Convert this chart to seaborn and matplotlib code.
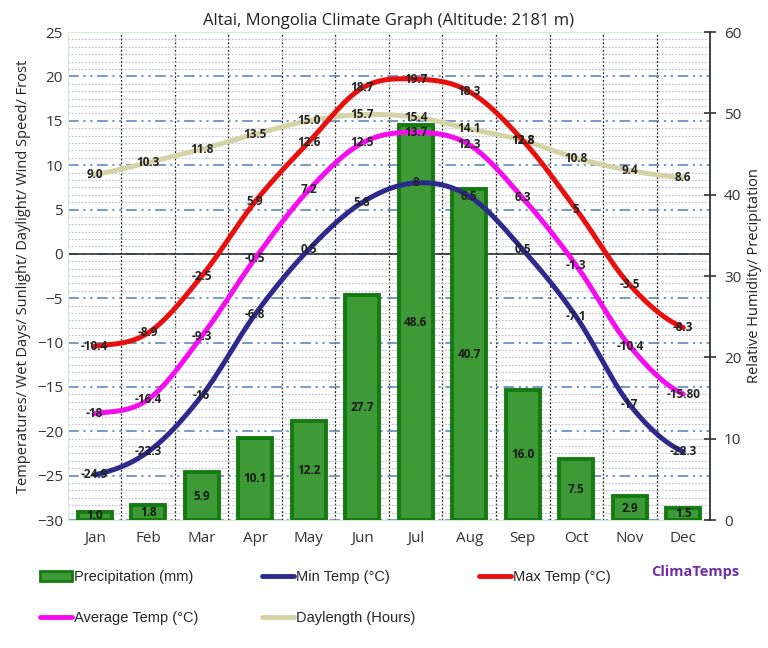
import numpy as np
import pandas as pd
import matplotlib
matplotlib.use("Agg")
from matplotlib import pyplot as plt
from matplotlib.lines import Line2D
from matplotlib.patches import Patch
from matplotlib.ticker import MultipleLocator, AutoMinorLocator
import seaborn as sns

months = ["Jan", "Feb", "Mar", "Apr", "May", "Jun",
          "Jul", "Aug", "Sep", "Oct", "Nov", "Dec"]
precip = [1.0, 1.8, 5.9, 10.1, 12.2, 27.7, 48.6, 40.7, 16.0, 7.5, 2.9, 1.5]
min_temp = [-24.9, -22.3, -16, -6.8, 0.5, 5.8, 8, 6.5, 0.5, -7.1, -17, -22.3]
max_temp = [-10.4, -8.9, -2.5, 5.9, 12.6, 18.7, 19.7, 18.3, 12.8, 5, -3.5, -8.3]
avg_temp = [-18, -16.4, -9.3, -0.5, 7.2, 12.5, 13.7, 12.3, 6.3, -1.3, -10.4, -15.8]
daylength = [9.0, 10.3, 11.8, 13.5, 15.0, 15.7, 15.4, 14.1, 12.8, 10.8, 9.4, 8.6]

min_labels = ["-24.9", "-22.3", "-16", "-6.8", "0.5", "5.8", "8", "6.5", "0.5", "-7.1", "-17", "-22.3"]
max_labels = ["-10.4", "-8.9", "-2.5", "5.9", "12.6", "18.7", "19.7", "18.3", "12.8", "5", "-3.5", "-8.3"]
avg_labels = ["-18", "-16.4", "-9.3", "-0.5", "7.2", "12.5", "13.7", "12.3", "6.3", "-1.3", "-10.4", "-15.80"]
day_labels = [f"{v:.1f}" for v in daylength]

C_MAX = "#e8100e"
C_AVG = "#f50cf0"
C_MIN = "#2e2a8c"
C_DAY = "#d3d3a6"
C_BAR = "#3d9a36"
C_BAR_EDGE = "#147a12"


def smooth(values, steps=24):
    """Catmull-Rom curve through the monthly points (for drawing only)."""
    y = np.asarray(values, dtype=float)
    p = np.concatenate([[y[0]], y, [y[-1]]])
    xs, ys = [], []
    for i in range(len(y) - 1):
        p0, p1, p2, p3 = p[i], p[i + 1], p[i + 2], p[i + 3]
        t = np.linspace(0, 1, steps, endpoint=False)
        seg = 0.5 * ((2 * p1) + (-p0 + p2) * t
                     + (2 * p0 - 5 * p1 + 4 * p2 - p3) * t ** 2
                     + (-p0 + 3 * p1 - 3 * p2 + p3) * t ** 3)
        xs.extend(i + t)
        ys.extend(seg)
    xs.append(len(y) - 1)
    ys.append(y[-1])
    return pd.DataFrame({"x": xs, "y": ys})


sns.set_style("white")
plt.rcParams["font.family"] = ["Open Sans", "DejaVu Sans"]

fig = plt.figure(figsize=(7.68, 6.48), dpi=100)
ax = fig.add_axes([0.0885, 0.1975, 0.836, 0.753])
axr = ax.twinx()
axt = ax.twinx()

# background axis: grid + left scale
ax.set_xlim(-0.5, 11.5)
ax.set_ylim(-30, 25)
ax.yaxis.set_major_locator(MultipleLocator(5))
ax.yaxis.set_minor_locator(AutoMinorLocator(6))
ax.set_xticks(range(12))
ax.set_xticklabels(months)
ax.set_xticks(np.arange(0.5, 11.5, 1), minor=True)
ax.grid(which="major", axis="y", color="#4f7fb8", lw=1.1,
        linestyle=(0, (7, 3, 1.5, 3, 1.5, 3)))
ax.grid(which="minor", axis="y", color="#b9c0cc", lw=0.8, linestyle=(0, (1.5, 1.5)))
ax.grid(which="minor", axis="x", color="#222222", lw=0.9, linestyle=(0, (1.5, 1.5)))
ax.axhline(0, color="#333333", lw=1.2)
ax.tick_params(axis="both", which="both", length=0, labelsize=11, colors="#333333")
ax.tick_params(axis="x", pad=8)
for s in ["top", "left", "bottom"]:
    ax.spines[s].set_color("#d6ecd0")
ax.spines["right"].set_visible(False)
ax.set_ylabel("Temperatures/ Wet Days/ Sunlight/ Daylight/ Wind Speed/ Frost",
              fontsize=10.5, color="#222222", labelpad=4)
ax.set_title("Altai, Mongolia Climate Graph (Altitude: 2181 m)",
             fontsize=12, color="#222222", pad=5)

# bars on the right scale
axr.set_zorder(ax.get_zorder() + 1)
axr.patch.set_visible(False)
bar_df = pd.DataFrame({"month": months, "precip": precip})
sns.barplot(data=bar_df, x="month", y="precip", ax=axr, color=C_BAR,
            edgecolor=C_BAR_EDGE, linewidth=2.8, width=0.64, saturation=1)
axr.bar_label(axr.containers[0], labels=[f"{v:.1f}" for v in precip],
              label_type="center", fontsize=8.5, fontweight="bold", color="#1a1a1a")
axr.set_xlim(-0.5, 11.5)
axr.set_ylim(0, 60)
axr.yaxis.set_major_locator(MultipleLocator(10))
axr.set_xlabel("")
axr.set_ylabel("Relative Humidity/ Precipitation", fontsize=10.5, color="#222222", labelpad=4)
axr.tick_params(axis="y", direction="inout", length=8, width=1.2, labelsize=11,
                colors="#333333", pad=6)
for s in ["top", "left", "bottom"]:
    axr.spines[s].set_visible(False)
axr.spines["right"].set_color("#333333")
axr.spines["right"].set_linewidth(1.3)

# lines on top, left scale
axt.set_zorder(axr.get_zorder() + 1)
axt.patch.set_visible(False)
axt.set_xlim(-0.5, 11.5)
axt.set_ylim(-30, 25)
axt.axis("off")
series = [
    (daylength, day_labels, C_DAY),
    (min_temp, min_labels, C_MIN),
    (avg_temp, avg_labels, C_AVG),
    (max_temp, max_labels, C_MAX),
]
for vals, labs, col in series:
    sns.lineplot(data=smooth(vals), x="x", y="y", ax=axt, color=col, lw=3.6,
                 sort=False, estimator=None)
for vals, labs, col in series:
    for i, (v, t) in enumerate(zip(vals, labs)):
        axt.text(i, v, t, ha="center", va="center", fontsize=8.5,
                 fontweight="bold", color="#222222", zorder=5)

# legend
handles = [
    Patch(facecolor=C_BAR, edgecolor=C_BAR_EDGE, linewidth=2, label="Precipitation (mm)"),
    Line2D([], [], color=C_AVG, lw=3.5, label="Average Temp (°C)"),
    Line2D([], [], color=C_MIN, lw=3.5, label="Min Temp (°C)"),
    Line2D([], [], color=C_DAY, lw=3.5, label="Daylength (Hours)"),
    Line2D([], [], color=C_MAX, lw=3.5, label="Max Temp (°C)"),
]
fig.legend(handles=handles, ncol=3, loc="upper left", bbox_to_anchor=(0.035, 0.14),
           frameon=False, handlelength=2.2, handletextpad=0.1,
           columnspacing=4.4, labelspacing=1.8,
           prop={"family": ["Liberation Sans Narrow", "Liberation Sans"], "size": 10.5})
fig.text(0.905, 0.117, "ClimaTemps", color="#7030a0", fontsize=10.5,
         fontweight="bold", ha="center", va="center")

fig.savefig("out.png", dpi=100, facecolor="white")
